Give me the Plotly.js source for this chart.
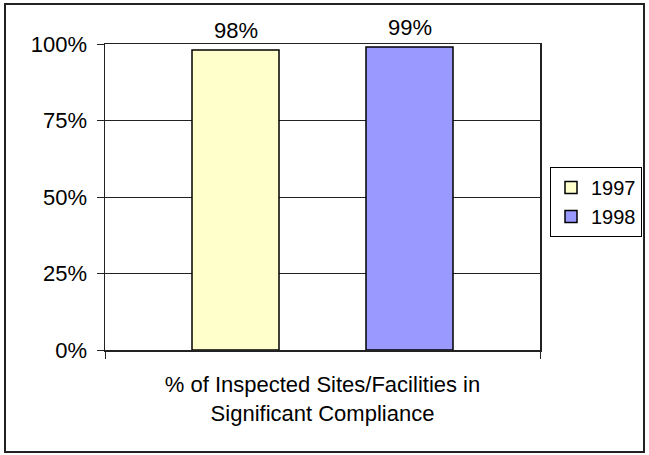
<!DOCTYPE html>
<html>
<head>
<meta charset="utf-8">
<script src="https://cdn.plot.ly/plotly-3.0.1.min.js"></script>
<style>html,body{margin:0;padding:0;background:#fff;}#chart{width:649px;height:455px;}</style>
</head>
<body>
<div id="chart"></div>
<script>
var categories = ["% of Inspected Sites/Facilities in<br>Significant Compliance"];
var seriesNames = ["1997", "1998"];
var values1997 = [0.98];
var values1998 = [0.99];
var labels1997 = ["98%"];
var labels1998 = ["99%"];
var yTickVals = [0, 0.25, 0.5, 0.75, 1];
var yTickText = ["0%", "25%", "50%", "75%", "100%"];

var fnt = {family: "Liberation Sans, Arial, sans-serif", size: 22, color: "#000"};
var legFnt = {family: "Liberation Sans, Arial, sans-serif", size: 20, color: "#000"};
var W = 649, H = 455, L = 105, R = 109, T = 44, B = 105;
var pw = W - L - R, ph = H - T - B;
function px(x){ return (x - L) / pw; }
function py(y){ return (H - B - y) / ph; }

var barWidth = 0.2, offsets = [-0.3, 0.1];
var series = [
  {name: seriesNames[0], y: values1997, text: labels1997, color: "#FFFFCC"},
  {name: seriesNames[1], y: values1998, text: labels1998, color: "#9999FF"}
];

var traces = series.map(function(s, i){
  return {type: "bar", name: s.name, x: categories, y: s.y,
    width: barWidth, offset: offsets[i],
    marker: {color: s.color, line: {color: "#000", width: 1.5}}, hoverinfo: "none"};
});

var annotations = [];
series.forEach(function(s, i){
  s.y.forEach(function(v, j){
    annotations.push({x: j + offsets[i] + barWidth / 2, y: v, xref: "x", yref: "y",
      text: s.text[j], showarrow: false, yanchor: "bottom", yshift: 5, font: fnt});
  });
});

var layout = {
  width: W, height: H,
  margin: {l: L, r: R, t: T, b: B, pad: 0},
  paper_bgcolor: "#fff", plot_bgcolor: "#fff",
  font: fnt,
  showlegend: true,
  barmode: "overlay",
  legend: {xref: "container", yref: "container", x: 550 / W, y: 1 - 167 / H,
           xanchor: "left", yanchor: "top",
           bordercolor: "#000", borderwidth: 1, font: legFnt, bgcolor: "#fff",
           itemwidth: 30, tracegroupgap: 0},
  xaxis: {type: "category", range: [-0.5, 0.5], showline: true, linecolor: "#222", linewidth: 1.5, mirror: true,
          ticks: "outside", tickson: "boundaries", ticklen: 7, tickcolor: "#222",
          ticklabelstandoff: 14,
          tickfont: fnt, showgrid: false, zeroline: false, fixedrange: true},
  yaxis: {range: [0, 1], tickvals: yTickVals, ticktext: yTickText,
          showline: true, linecolor: "#222", linewidth: 1.5, mirror: true,
          ticks: "outside", ticklen: 7, tickcolor: "#222", tickfont: fnt,
          ticklabelstandoff: 5,
          showgrid: true, gridcolor: "#222", gridwidth: 1, zeroline: false, fixedrange: true},
  annotations: annotations,
  shapes: [
    {type: "rect", xref: "paper", yref: "paper", x0: px(5), x1: px(644), y0: py(452), y1: py(4),
     line: {color: "#222", width: 2}, fillcolor: "rgba(0,0,0,0)", layer: "below"}
  ]
};

Plotly.newPlot("chart", traces, layout, {displayModeBar: false, staticPlot: true});
</script>
</body>
</html>
